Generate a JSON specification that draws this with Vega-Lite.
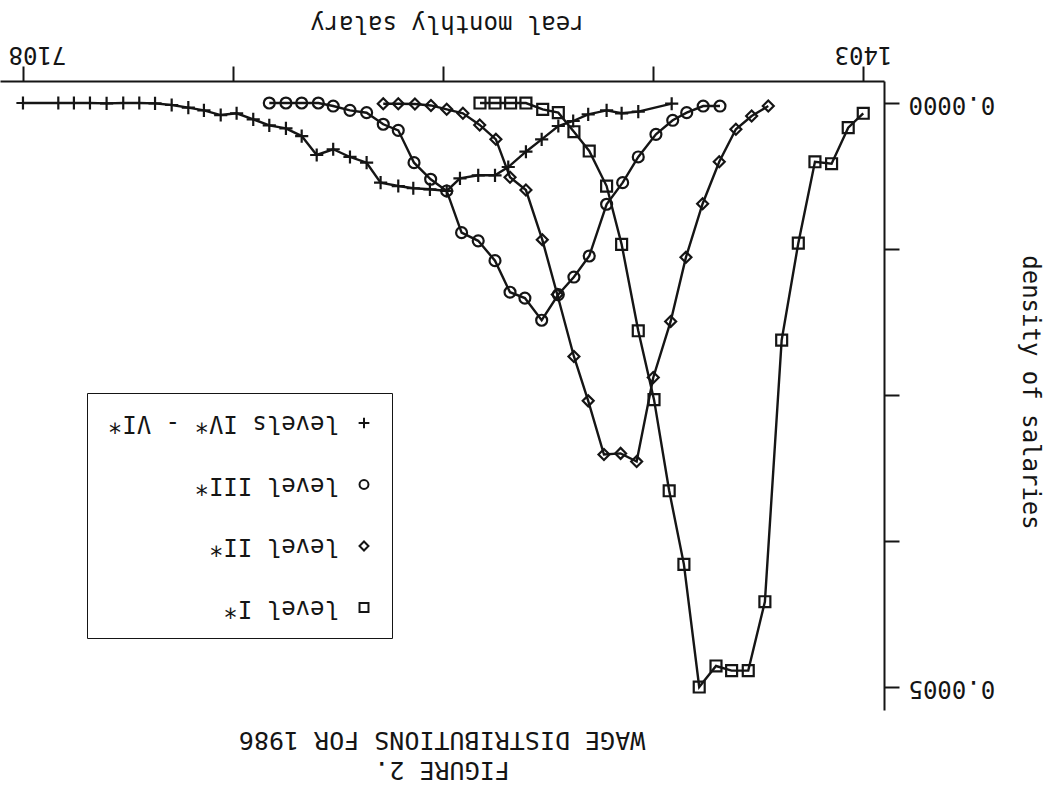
{
  "$schema": "https://vega.github.io/schema/vega-lite/v6.json",
  "width": 884,
  "height": 629,
  "autosize": {"type": "none"},
  "padding": {"left": 0, "top": 81, "right": 160, "bottom": 75},
  "background": "white",
  "title": {
    "text": ["FIGURE 2.", "WAGE DISTRIBUTIONS FOR 1986"],
    "orient": "bottom", "angle": 180, "baseline": "bottom", "anchor": "middle", "frame": "group",
    "offset": 47, "font": "DejaVu Sans Mono", "fontSize": 25, "fontWeight": "normal", "lineHeight": 30, "color": "#151515"
  },
  "data": {"values": [
    {"level": "levels IV* - VI*", "salary": 7108, "density": 0},
    {"level": "levels IV* - VI*", "salary": 6868, "density": 0},
    {"level": "levels IV* - VI*", "salary": 6762, "density": 0},
    {"level": "levels IV* - VI*", "salary": 6653, "density": 0},
    {"level": "levels IV* - VI*", "salary": 6540, "density": 0.0000003},
    {"level": "levels IV* - VI*", "salary": 6427, "density": 0},
    {"level": "levels IV* - VI*", "salary": 6318, "density": 0},
    {"level": "levels IV* - VI*", "salary": 6211, "density": 0.0000003},
    {"level": "levels IV* - VI*", "salary": 6098, "density": 0.0000017},
    {"level": "levels IV* - VI*", "salary": 5985, "density": 0.000004},
    {"level": "levels IV* - VI*", "salary": 5879, "density": 0.0000063},
    {"level": "levels IV* - VI*", "salary": 5765, "density": 0.0000103},
    {"level": "levels IV* - VI*", "salary": 5657, "density": 0.0000088},
    {"level": "levels IV* - VI*", "salary": 5544, "density": 0.000014},
    {"level": "levels IV* - VI*", "salary": 5435, "density": 0.0000191},
    {"level": "levels IV* - VI*", "salary": 5322, "density": 0.0000217},
    {"level": "levels IV* - VI*", "salary": 5215, "density": 0.0000283},
    {"level": "levels IV* - VI*", "salary": 5113, "density": 0.0000445},
    {"level": "levels IV* - VI*", "salary": 5001, "density": 0.0000396},
    {"level": "levels IV* - VI*", "salary": 4887, "density": 0.0000462},
    {"level": "levels IV* - VI*", "salary": 4774, "density": 0.0000511},
    {"level": "levels IV* - VI*", "salary": 4679, "density": 0.0000682},
    {"level": "levels IV* - VI*", "salary": 4559, "density": 0.0000711},
    {"level": "levels IV* - VI*", "salary": 4457, "density": 0.000073},
    {"level": "levels IV* - VI*", "salary": 4344, "density": 0.0000739},
    {"level": "levels IV* - VI*", "salary": 4230, "density": 0.0000753},
    {"level": "levels IV* - VI*", "salary": 4140, "density": 0.0000645},
    {"level": "levels IV* - VI*", "salary": 4016, "density": 0.0000619},
    {"level": "levels IV* - VI*", "salary": 3902, "density": 0.0000619},
    {"level": "levels IV* - VI*", "salary": 3812, "density": 0.0000548},
    {"level": "levels IV* - VI*", "salary": 3692, "density": 0.0000417},
    {"level": "levels IV* - VI*", "salary": 3585, "density": 0.0000311},
    {"level": "levels IV* - VI*", "salary": 3472, "density": 0.0000197},
    {"level": "levels IV* - VI*", "salary": 3371, "density": 0.0000154},
    {"level": "levels IV* - VI*", "salary": 3269, "density": 0.0000097},
    {"level": "levels IV* - VI*", "salary": 3144, "density": 0.0000063},
    {"level": "levels IV* - VI*", "salary": 3042, "density": 0.0000088},
    {"level": "levels IV* - VI*", "salary": 2929, "density": 0.0000074},
    {"level": "levels IV* - VI*", "salary": 2702, "density": 0.0000006},

    {"level": "level III*", "salary": 5435, "density": 0},
    {"level": "level III*", "salary": 5322, "density": 0},
    {"level": "level III*", "salary": 5215, "density": 0},
    {"level": "level III*", "salary": 5102, "density": 0},
    {"level": "level III*", "salary": 5001, "density": 0.0000026},
    {"level": "level III*", "salary": 4887, "density": 0.0000063},
    {"level": "level III*", "salary": 4774, "density": 0.0000083},
    {"level": "level III*", "salary": 4661, "density": 0.0000182},
    {"level": "level III*", "salary": 4559, "density": 0.0000234},
    {"level": "level III*", "salary": 4452, "density": 0.0000511},
    {"level": "level III*", "salary": 4339, "density": 0.0000653},
    {"level": "level III*", "salary": 4230, "density": 0.0000753},
    {"level": "level III*", "salary": 4129, "density": 0.000111},
    {"level": "level III*", "salary": 4016, "density": 0.000118},
    {"level": "level III*", "salary": 3902, "density": 0.000135},
    {"level": "level III*", "salary": 3800, "density": 0.000162},
    {"level": "level III*", "salary": 3699, "density": 0.000167},
    {"level": "level III*", "salary": 3585, "density": 0.000186},
    {"level": "level III*", "salary": 3472, "density": 0.000164},
    {"level": "level III*", "salary": 3366, "density": 0.000149},
    {"level": "level III*", "salary": 3262, "density": 0.000131},
    {"level": "level III*", "salary": 3144, "density": 0.0000867},
    {"level": "level III*", "salary": 3035, "density": 0.0000682},
    {"level": "level III*", "salary": 2929, "density": 0.0000462},
    {"level": "level III*", "salary": 2809, "density": 0.0000268},
    {"level": "level III*", "salary": 2695, "density": 0.0000148},
    {"level": "level III*", "salary": 2600, "density": 0.0000083},
    {"level": "level III*", "salary": 2488, "density": 0.0000026},
    {"level": "level III*", "salary": 2374, "density": 0.0000026},

    {"level": "level II*", "salary": 4661, "density": 0.0000006},
    {"level": "level II*", "salary": 4559, "density": 0.0000006},
    {"level": "level II*", "salary": 4446, "density": 0.0000009},
    {"level": "level II*", "salary": 4337, "density": 0.0000021},
    {"level": "level II*", "salary": 4230, "density": 0.0000054},
    {"level": "level II*", "salary": 4120, "density": 0.0000088},
    {"level": "level II*", "salary": 4006, "density": 0.0000188},
    {"level": "level II*", "salary": 3896, "density": 0.0000311},
    {"level": "level II*", "salary": 3800, "density": 0.0000636},
    {"level": "level II*", "salary": 3692, "density": 0.0000745},
    {"level": "level II*", "salary": 3581, "density": 0.000117},
    {"level": "level II*", "salary": 3479, "density": 0.000164},
    {"level": "level II*", "salary": 3366, "density": 0.000217},
    {"level": "level II*", "salary": 3269, "density": 0.000255},
    {"level": "level II*", "salary": 3162, "density": 0.000301},
    {"level": "level II*", "salary": 3049, "density": 0.0003},
    {"level": "level II*", "salary": 2940, "density": 0.000307},
    {"level": "level II*", "salary": 2827, "density": 0.000235},
    {"level": "level II*", "salary": 2709, "density": 0.000187},
    {"level": "level II*", "salary": 2605, "density": 0.000132},
    {"level": "level II*", "salary": 2492, "density": 0.0000862},
    {"level": "level II*", "salary": 2379, "density": 0.0000503},
    {"level": "level II*", "salary": 2266, "density": 0.0000225},
    {"level": "level II*", "salary": 2159, "density": 0.0000111},
    {"level": "level II*", "salary": 2046, "density": 0.0000026},

    {"level": "level I*", "salary": 4004, "density": 0},
    {"level": "level I*", "salary": 3902, "density": 0},
    {"level": "level I*", "salary": 3796, "density": 0},
    {"level": "level I*", "salary": 3692, "density": 0},
    {"level": "level I*", "salary": 3578, "density": 0.0000054},
    {"level": "level I*", "salary": 3472, "density": 0.0000083},
    {"level": "level I*", "salary": 3366, "density": 0.0000246},
    {"level": "level I*", "salary": 3262, "density": 0.0000411},
    {"level": "level I*", "salary": 3144, "density": 0.0000711},
    {"level": "level I*", "salary": 3042, "density": 0.000121},
    {"level": "level I*", "salary": 2929, "density": 0.000195},
    {"level": "level I*", "salary": 2822, "density": 0.000254},
    {"level": "level I*", "salary": 2719, "density": 0.000332},
    {"level": "level I*", "salary": 2619, "density": 0.000395},
    {"level": "level I*", "salary": 2515, "density": 0.0005},
    {"level": "level I*", "salary": 2401, "density": 0.000482},
    {"level": "level I*", "salary": 2295, "density": 0.000486},
    {"level": "level I*", "salary": 2182, "density": 0.000486},
    {"level": "level I*", "salary": 2069, "density": 0.000427},
    {"level": "level I*", "salary": 1955, "density": 0.000203},
    {"level": "level I*", "salary": 1842, "density": 0.00012},
    {"level": "level I*", "salary": 1729, "density": 0.0000503},
    {"level": "level I*", "salary": 1616, "density": 0.000052},
    {"level": "level I*", "salary": 1503, "density": 0.0000211},
    {"level": "level I*", "salary": 1401, "density": 0.0000088}
  ]},
  "encoding": {
    "x": {
      "field": "salary", "type": "quantitative",
      "scale": {"domain": [1260, 7264], "reverse": true, "nice": false, "zero": false},
      "axis": {
        "orient": "top", "values": [1403, 2829.25, 4255.5, 5681.75, 7108],
        "labelExpr": "datum.value == 1403 || datum.value == 7108 ? format(datum.value, 'd') : ''",
        "grid": false, "domainColor": "#151515", "domainWidth": 2, "tickColor": "#151515", "tickWidth": 2, "tickSize": 15,
        "labelAngle": 180, "labelAlign": "center", "labelBaseline": "top", "labelPadding": 1,
        "labelOffset": {"condition": {"test": "datum.value == 7108", "value": 14}, "value": 0},
        "labelFont": "DejaVu Sans Mono", "labelFontSize": 24, "labelColor": "#151515", "labelFlush": false, "labelOverlap": false,
        "title": "real monthly salary", "titleFont": "DejaVu Sans Mono", "titleFontSize": 24, "titleFontWeight": "normal", "titleColor": "#151515",
        "titleAngle": 180, "titleBaseline": "middle", "titleAlign": "center", "titleX": 447, "titleY": -59
      }
    },
    "y": {
      "field": "density", "type": "quantitative",
      "scale": {"domain": [-0.00001884, 0.00051969], "reverse": true, "nice": false, "zero": false},
      "axis": {
        "orient": "right", "values": [0, 0.000125, 0.00025, 0.000375, 0.0005],
        "labelExpr": "datum.value == 0 ? '0.0000' : (datum.value == 0.0005 ? '0.0005' : '')",
        "grid": false, "domainColor": "#151515", "domainWidth": 2, "tickColor": "#151515", "tickWidth": 2, "tickSize": 15,
        "labelAngle": 180, "labelAlign": "right", "labelBaseline": "middle", "labelPadding": 9,
        "labelFont": "DejaVu Sans Mono", "labelFontSize": 24, "labelColor": "#151515", "labelFlush": false, "labelOverlap": false,
        "title": "density of salaries", "titleFont": "DejaVu Sans Mono", "titleFontSize": 24, "titleFontWeight": "normal", "titleColor": "#151515",
        "titleAngle": 90, "titleBaseline": "middle", "titleAlign": "center", "titleX": 145, "titleY": 311
      }
    }
  },
  "layer": [
    {
      "mark": {"type": "line", "color": "#151515", "strokeWidth": 2.4},
      "encoding": {"detail": {"field": "level", "type": "nominal"}}
    },
    {
      "mark": {"type": "point", "filled": false, "color": "#151515", "strokeWidth": 2.2, "opacity": 1, "size": 120},
      "encoding": {"shape": {"field": "level", "type": "nominal",
        "scale": {"domain": ["levels IV* - VI*", "level III*", "level II*", "level I*"], "range": ["M-1.2,0H1.2M0,-1.2V1.2", "circle", "diamond", "square"]},
        "legend": {
          "orient": "none", "legendX": 87, "legendY": 312, "title": null,
          "labelFont": "DejaVu Sans Mono", "labelFontSize": 24, "labelLimit": 500, "labelOffset": -37, "labelColor": "#151515",
          "labelAlign": "left", "labelBaseline": "middle", "symbolOffset": 247,
          "rowPadding": 36.5, "padding": 18, "strokeColor": "#151515",
          "symbolSize": 80, "symbolStrokeWidth": 2, "symbolStrokeColor": "#151515", "symbolFillColor": "transparent"
        }}}
    }
  ],
  "config": {
    "view": {"stroke": null},
    "font": "DejaVu Sans Mono",
    "style": {"guide-label": {"angle": 180}}
  }
}
